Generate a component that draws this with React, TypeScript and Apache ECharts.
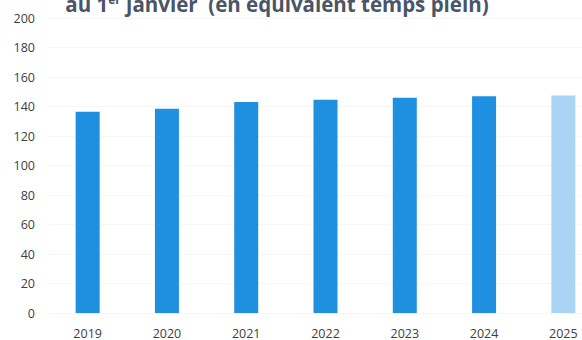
import React, { useEffect, useRef } from "react";
import * as echarts from "echarts";

const years = ["2019", "2020", "2021", "2022", "2023", "2024", "2025"];
const values = [136.5, 138.5, 143, 144.5, 146, 147, 147.5];
const forecastIndex = 6;
const yTicks = { min: 0, max: 200, interval: 20 };

export default function App() {
  const ref = useRef<HTMLDivElement>(null);
  useEffect(() => {
    if (!ref.current) return;
    const chart = echarts.init(ref.current, undefined, { renderer: "svg" });
    chart.setOption({
      animation: false,
      backgroundColor: "#ffffff",
      textStyle: { fontFamily: "Open Sans" },
      grid: { left: 48, right: 1, top: 18, bottom: 25, containLabel: false },
      graphic: [
        {
          type: "text",
          x: 277,
          y: 14,
          style: {
            text: "au 1{sup|er} janvier  (en équivalent temps plein)",
            fontFamily: "Open Sans",
            fontWeight: "bold",
            fontSize: 20.5,
            fill: "#4a5568",
            textAlign: "center",
            textVerticalAlign: "bottom",
            rich: {
              sup: {
                fontSize: 12,
                fontWeight: "bold",
                fontFamily: "Open Sans",
                fill: "#4a5568",
                verticalAlign: "top",
              },
            },
          },
        },
      ],
      xAxis: {
        type: "category",
        data: years,
        axisLine: { show: false },
        axisTick: { show: false },
        axisLabel: { color: "#404040", fontSize: 12.5, margin: 14 },
      },
      yAxis: {
        type: "value",
        min: yTicks.min,
        max: yTicks.max,
        interval: yTicks.interval,
        axisLine: { show: false },
        axisTick: { show: false },
        axisLabel: { color: "#404040", fontSize: 12.5, margin: 13 },
        splitLine: { lineStyle: { color: "#f6f6f6", width: 1 } },
      },
      series: [
        {
          type: "bar",
          barWidth: 24,
          data: values.map((v, i) => ({
            value: v,
            itemStyle: { color: i === forecastIndex ? "#a9d4f5" : "#1f8fe0" },
          })),
        },
      ],
    });
    return () => chart.dispose();
  }, []);
  return (
    <div
      style={{
        position: "fixed",
        left: 0,
        top: 0,
        width: 582,
        height: 340,
        overflow: "hidden",
        background: "#fff",
      }}
    >
      <div ref={ref} style={{ width: 604, height: 340 }} />
    </div>
  );
}
